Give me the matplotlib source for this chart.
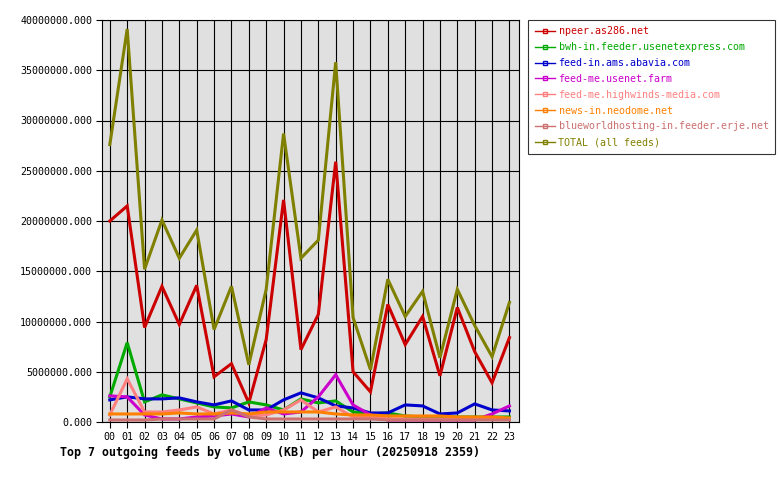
import matplotlib
matplotlib.use("Agg")
import matplotlib.pyplot as plt
from matplotlib.lines import Line2D

hours = ["%02d" % h for h in range(24)]

npeer = [20.0, 21.5, 9.4, 13.5, 9.7, 13.6, 4.5, 5.8, 1.9, 8.2, 22.1, 7.2,
         10.7, 25.9, 5.0, 3.0, 11.7, 7.7, 10.5, 4.6, 11.4, 7.0, 3.9, 8.4]
bwh = [2.5, 7.9, 2.0, 2.7, 2.3, 1.9, 1.5, 1.4, 2.0, 1.7, 1.2, 2.3,
       1.9, 2.1, 1.0, 0.8, 0.9, 0.6, 0.5, 0.5, 0.5, 0.5, 0.5, 0.5]
abavia = [2.2, 2.5, 2.3, 2.3, 2.4, 2.0, 1.7, 2.1, 1.2, 1.2, 2.2, 2.9,
          2.4, 1.6, 1.4, 0.9, 0.9, 1.7, 1.6, 0.8, 0.9, 1.8, 1.2, 1.1]
farm = [2.6, 2.5, 0.7, 0.3, 0.3, 0.5, 0.6, 0.8, 0.5, 1.4, 0.8, 1.0,
        2.5, 4.7, 1.7, 0.7, 0.2, 0.2, 0.2, 0.2, 0.2, 0.2, 0.8, 1.6]
highwinds = [0.7, 4.3, 1.0, 1.0, 1.2, 1.5, 0.8, 1.2, 0.6, 0.7, 1.2, 2.2,
             1.0, 1.5, 0.5, 0.5, 0.3, 0.3, 0.3, 0.3, 0.3, 0.3, 0.3, 0.3]
neodome = [0.8, 0.8, 0.8, 0.8, 0.9, 0.8, 0.8, 0.9, 0.8, 1.0, 1.0, 1.0,
           1.0, 0.8, 0.7, 0.7, 0.6, 0.6, 0.6, 0.6, 0.5, 0.5, 0.5, 0.4]
blueworld = [0.2, 0.2, 0.2, 0.3, 0.3, 0.3, 0.3, 1.2, 0.5, 0.3, 0.3, 0.3,
             0.3, 0.3, 0.3, 0.3, 0.2, 0.2, 0.2, 0.2, 0.2, 0.2, 0.2, 0.2]
total = [27.6, 39.1, 15.2, 20.1, 16.3, 19.1, 9.2, 13.5, 5.7, 13.2, 28.7, 16.3,
         18.1, 35.8, 10.4, 5.2, 14.2, 10.5, 13.0, 6.4, 13.2, 9.6, 6.5, 11.9]

names = ["npeer.as286.net", "bwh-in.feeder.usenetexpress.com",
         "feed-in.ams.abavia.com", "feed-me.usenet.farm",
         "feed-me.highwinds-media.com", "news-in.neodome.net",
         "blueworldhosting-in.feeder.erje.net", "TOTAL (all feeds)"]
series = [npeer, bwh, abavia, farm, highwinds, neodome, blueworld, total]
colors = ["#cc0000", "#00aa00", "#0000cc", "#cc00cc", "#ff8080",
          "#ff8000", "#cc7070", "#808000"]

plt.rcParams['font.family'] = ['DejaVu Sans Mono']

fig = plt.figure(figsize=(7.8, 4.8), dpi=100)
ax = fig.add_axes([102 / 780, 1 - 422 / 480, 417 / 780, 402 / 480])
ax.set_facecolor("#e0e0e0")

x = list(range(24))
for vals, c in zip(series, colors):
    ax.plot(x, [v * 1e6 for v in vals], color=c, linewidth=2.2,
            solid_joinstyle="miter", zorder=3)

ax.set_xlim(-0.45, 23.55)
ax.set_ylim(0, 40e6)
ax.set_xticks(x)
ax.set_xticklabels(hours)
ax.set_yticks([i * 5e6 for i in range(9)])
ax.set_yticklabels(["%d.000" % (i * 5000000) for i in range(9)])
ax.grid(True, color="black", linewidth=0.8)
ax.set_axisbelow(True)
ax.tick_params(labelsize=7.2, length=4, width=0.8, color="black", pad=3)
for s in ax.spines.values():
    s.set_linewidth(0.8)

handles = [Line2D([0], [0], color=c, linewidth=1, marker="s", markersize=3,
                  markerfacecolor="none") for c in colors]
leg = fig.legend(handles, names, loc="upper left",
                 bbox_to_anchor=(528 / 780, 1 - 20 / 480),
                 prop={"size": 7.2}, frameon=True, fancybox=False,
                 handlelength=2.0, handletextpad=0.4, labelspacing=0.58,
                 borderpad=0.65, borderaxespad=0)
leg.get_frame().set_edgecolor("black")
leg.get_frame().set_linewidth(0.8)
for t, c in zip(leg.get_texts(), colors):
    t.set_color(c)

fig.text(60 / 780, 1 - 452 / 480,
         "Top 7 outgoing feeds by volume (KB) per hour (20250918 2359)",
         fontsize=8.4, fontweight="bold", va="center", ha="left")

fig.savefig("out.png", dpi=100)
